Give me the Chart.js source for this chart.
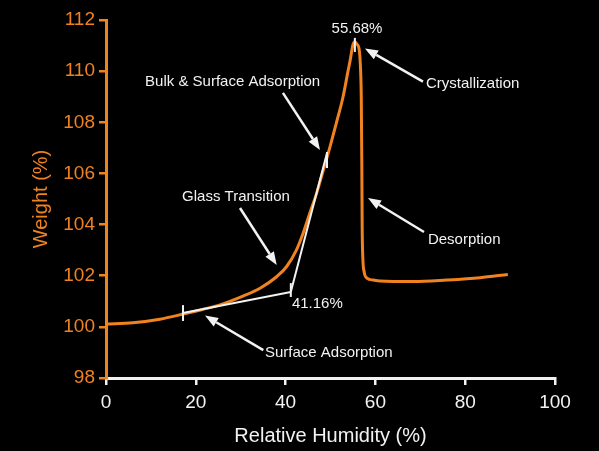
<!DOCTYPE html>
<html>
<head>
<meta charset="utf-8">
<script src="https://cdn.jsdelivr.net/npm/chart.js@4/dist/chart.umd.min.js"></script>
<style>
  html, body { margin: 0; padding: 0; background: #000; }
  #wrap { width: 599px; height: 451px; }
</style>
</head>
<body>
<div id="wrap"><canvas id="dvs" width="599" height="451"></canvas></div>
<script>
// relative humidity (%) vs sample weight (%)
const humidity = [0, 6, 12, 17.2, 21.5, 25.4, 30.5, 34.3, 38, 40.2, 42.4, 43.9, 45.4, 46.9, 48.4,
  49.9, 51.3, 52.8, 53.9, 54.4, 54.95, 55.43, 55.9, 56.4, 56.7, 56.85, 56.97, 57.05, 57.2, 57.5, 58.2, 59.5,
  61, 68.4, 75.9, 83.3, 89.5];
const weight = [100.11, 100.16, 100.3, 100.5, 100.68, 100.86, 101.2, 101.51, 101.96, 102.35, 103.0,
  103.66, 104.45, 105.22, 106.13, 107.05, 107.97, 109.0, 110.0, 110.44, 111.0, 111.15, 111.05, 110.83,
  110.04, 109.0, 106.5, 104.0, 102.7, 102.15, 101.9, 101.83, 101.79, 101.77, 101.83, 101.92, 102.05];

const xTicks = [0, 20, 40, 60, 80, 100];
const yTicks = [98, 100, 102, 104, 106, 108, 110, 112];

// annotation text / arrows, in data units
const notes = [
  { text: "Bulk & Surface Adsorption", x: 28.2, y: 109.6, align: "center", from: [39.4, 109.15], to: [47.66, 106.92] },
  { text: "Glass Transition", x: 28.95, y: 105.08, align: "center", from: [29.84, 104.65], to: [38.02, 102.42] },
  { text: "Crystallization", x: 71.27, y: 109.5, align: "left", from: [70.6, 109.59], to: [57.68, 110.89] },
  { text: "Desorption", x: 71.7, y: 103.4, align: "left", from: [70.82, 103.71], to: [58.35, 105.04] },
  { text: "Surface Adsorption", x: 35.41, y: 98.98, align: "left", from: [35.03, 99.09], to: [22.05, 100.44] },
];
const tangents = [[[17.15, 100.54], [41.16, 101.36]], [[41.16, 101.36], [49.22, 106.8]]];
const marks = [[17.15, 100.85, 100.23], [41.16, 101.71, 101.17], [49.22, 106.84, 106.21], [55.43, 111.3, 110.75]];
const labels = [
  { text: "55.68%", x: 55.9, y: 111.65, align: "center" },
  { text: "41.16%", x: 41.4, y: 100.9, align: "left" },
];

const ORANGE = "#f0821f";
const WHITE = "#f2f2f2";
const FAMILY = "'Liberation Sans', Arial, sans-serif";

const annotate = {
  id: "annotate",
  afterDatasetsDraw(chart) {
    const ctx = chart.ctx;
    const xs = chart.scales.x, ys = chart.scales.y;
    const px = v => xs.getPixelForValue(v);
    const py = v => ys.getPixelForValue(v);
    ctx.save();
    ctx.strokeStyle = WHITE;
    ctx.fillStyle = WHITE;
    ctx.lineWidth = 2;
    ctx.lineCap = "butt";

    tangents.forEach(([a, b]) => {
      ctx.beginPath();
      ctx.moveTo(px(a[0]), py(a[1]));
      ctx.lineTo(px(b[0]), py(b[1]));
      ctx.stroke();
    });
    marks.forEach(([x, y1, y2]) => {
      ctx.beginPath();
      ctx.moveTo(px(x), py(y1));
      ctx.lineTo(px(x), py(y2));
      ctx.stroke();
    });

    notes.forEach(n => {
      const x1 = px(n.from[0]), y1 = py(n.from[1]);
      const x2 = px(n.to[0]), y2 = py(n.to[1]);
      const ang = Math.atan2(y2 - y1, x2 - x1);
      const hl = 13, hw = 5;
      const bx = x2 - hl * Math.cos(ang), by = y2 - hl * Math.sin(ang);
      ctx.lineWidth = 2.5;
      ctx.beginPath();
      ctx.moveTo(x1, y1);
      ctx.lineTo(bx, by);
      ctx.stroke();
      ctx.beginPath();
      ctx.moveTo(x2, y2);
      ctx.lineTo(bx + hw * Math.sin(ang), by - hw * Math.cos(ang));
      ctx.lineTo(bx - hw * Math.sin(ang), by + hw * Math.cos(ang));
      ctx.closePath();
      ctx.fill();
    });

    ctx.font = "15px " + FAMILY;
    ctx.textBaseline = "middle";
    notes.concat(labels).forEach(n => {
      ctx.textAlign = n.align;
      ctx.fillText(n.text, px(n.x), py(n.y));
    });
    ctx.restore();
  }
};

new Chart(document.getElementById("dvs"), {
  type: "line",
  data: {
    datasets: [{
      data: humidity.map((h, i) => ({ x: h, y: weight[i] })),
      borderColor: ORANGE,
      borderWidth: 3,
      pointRadius: 0,
      fill: false,
      cubicInterpolationMode: "monotone",
    }],
  },
  options: {
    responsive: false,
    animation: false,
    layout: { padding: { top: 20, right: 44, left: 0, bottom: 0 } },
    plugins: { legend: { display: false }, tooltip: { enabled: false } },
    scales: {
      x: {
        type: "linear",
        min: 0, max: 100,
        afterBuildTicks: s => { s.ticks = xTicks.map(v => ({ value: v })); },
        afterFit: s => { s.height = 73; },
        ticks: { color: WHITE, font: { family: FAMILY, size: 19 }, padding: 6 },
        grid: { drawOnChartArea: false, tickLength: 7, color: WHITE, lineWidth: 2.5 },
        border: { color: WHITE, width: 3 },
        title: { display: true, text: "Relative Humidity (%)", color: WHITE,
                 font: { family: FAMILY, size: 20 }, padding: { bottom: 3 } },
      },
      y: {
        min: 98, max: 112,
        afterBuildTicks: s => { s.ticks = yTicks.map(v => ({ value: v })); },
        afterFit: s => { s.width = 106; },
        ticks: { color: ORANGE, font: { family: FAMILY, size: 19 }, padding: 4 },
        grid: { drawOnChartArea: false, tickLength: 7, color: ORANGE, lineWidth: 2.5 },
        border: { color: ORANGE, width: 3 },
        title: { display: true, text: "Weight (%)", color: ORANGE,
                 font: { family: FAMILY, size: 20 }, padding: { top: 29 } },
      },
    },
  },
  plugins: [annotate],
});
</script>
</body>
</html>
